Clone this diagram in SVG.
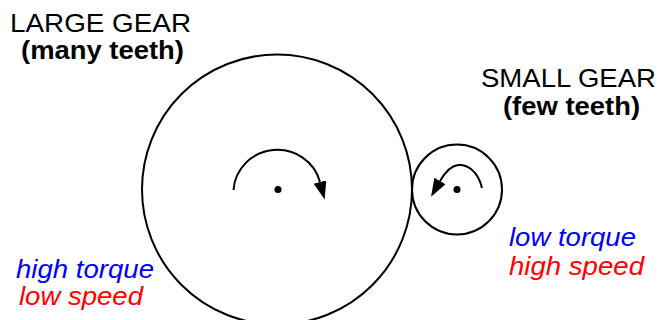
<svg xmlns="http://www.w3.org/2000/svg" width="661" height="320" viewBox="0 0 661 320">
<style>
.g{fill:none;stroke:#000;stroke-width:2}
.a{fill:none;stroke:#000;stroke-width:2}
.t{font-family:"Liberation Sans",Arial,sans-serif;font-size:26px;fill:#000}
.s{font-size:25px}
.b{font-weight:bold}
.i{font-style:italic}
.blue{fill:#0000ff}
.red{fill:#ff0000}
</style>
<defs>
<marker id="ah" markerUnits="userSpaceOnUse" markerWidth="20" markerHeight="14" refX="0" refY="6.5" orient="auto">
<path d="M0,0 L18,6.5 L0,13 z" fill="#000"/>
</marker>
</defs>
<rect width="661" height="320" fill="#fff"/>
<g id="large-gear">
<circle class="g" cx="277" cy="189.5" r="135"/>
<circle cx="278" cy="189.5" r="3.5" fill="#000"/>
</g>
<g id="small-gear">
<circle class="g" cx="457" cy="189.5" r="45"/>
<circle cx="457" cy="189.5" r="3.5" fill="#000"/>
</g>
<g id="connectors">
<path class="a" d="M233.5,190 A44,43 0 0 1 320,182" marker-end="url(#ah)"/>
<path class="a" d="M482,188 C478,171 467,164 458,165 C450,166 444,174 440,181" marker-end="url(#ah)"/>
</g>
<g id="labels">
<text class="t" x="10" y="32" textLength="181" lengthAdjust="spacingAndGlyphs">LARGE GEAR</text>
<text class="t b" x="21" y="59" textLength="163" lengthAdjust="spacingAndGlyphs">(many teeth)</text>
<text class="t s" x="481" y="87" textLength="175" lengthAdjust="spacingAndGlyphs">SMALL GEAR</text>
<text class="t s b" x="503" y="115" textLength="137" lengthAdjust="spacingAndGlyphs">(few teeth)</text>
<text class="t i blue" x="16" y="278" textLength="138" lengthAdjust="spacingAndGlyphs">high torque</text>
<text class="t i red" x="19" y="305" textLength="124" lengthAdjust="spacingAndGlyphs">low speed</text>
<text class="t i blue" x="509" y="246" textLength="127" lengthAdjust="spacingAndGlyphs">low torque</text>
<text class="t i red" x="509" y="275" textLength="135" lengthAdjust="spacingAndGlyphs">high speed</text>
</g>
</svg>
